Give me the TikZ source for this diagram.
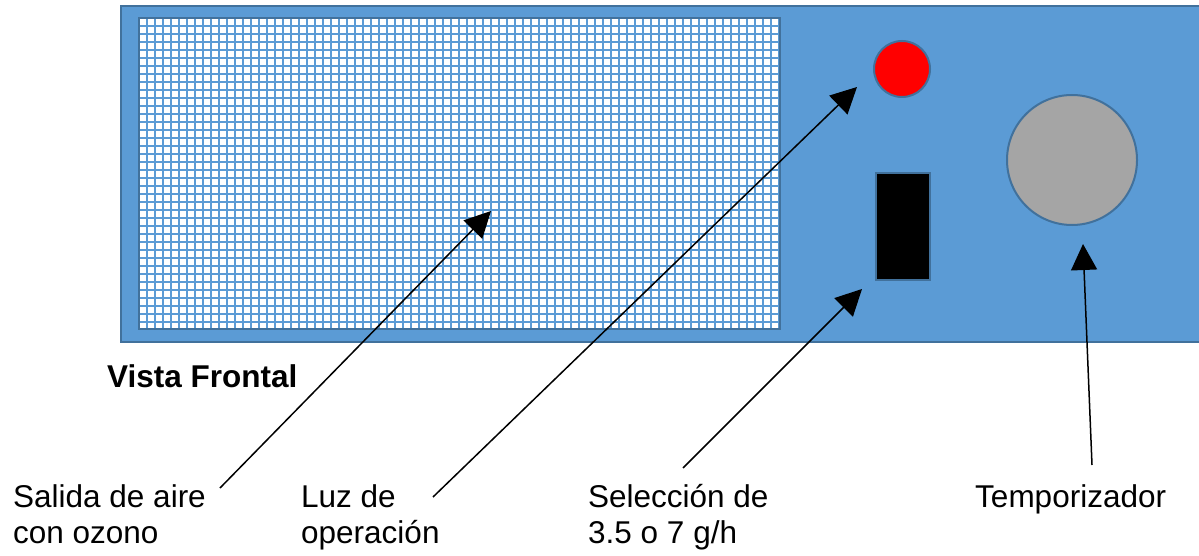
\documentclass[tikz,border=0pt]{standalone}
\usepackage{fontspec}
\setmainfont{Liberation Sans}
\usetikzlibrary{positioning,arrows.meta}
\definecolor{panelblue}{HTML}{5B9BD5}
\definecolor{edgeblue}{HTML}{41719C}
\definecolor{knobgray}{HTML}{A5A5A5}
\tikzstyle{panel} = [draw=edgeblue, line width=2.5pt, fill=panelblue, rectangle, inner sep=0pt]
\tikzstyle{outlet} = [fill=white, rectangle, inner sep=0pt, minimum width=641, minimum height=311]
\tikzstyle{gridline} = [draw=panelblue, line width=1.8pt]
\tikzstyle{frame} = [draw=edgeblue, line width=2pt]
\tikzstyle{lamp} = [circle, draw=edgeblue, line width=2pt, fill=red, minimum size=56, inner sep=0pt]
\tikzstyle{switch} = [rectangle, draw=edgeblue, line width=2pt, fill=black, minimum width=54, minimum height=107, inner sep=0pt]
\tikzstyle{knob} = [circle, draw=edgeblue, line width=2pt, fill=knobgray, minimum size=130, inner sep=0pt]
\tikzstyle{label} = [align=left, inner sep=0pt, anchor=base west, font=\fontsize{31.5}{36.5}\selectfont]
\tikzstyle{line} = [draw, line width=1.5pt, -{Triangle[length=26, width=26]}]

\begin{document}
\begin{tikzpicture}[x=1pt, y=-1pt]
    \useasboundingbox (0,0) rectangle (1199,556);

    % Place nodes
    \node [panel, minimum width=1100, minimum height=336] (front) at (671,174) {};
    \node [outlet] (salida) at (459.5,173.5) {};
    \foreach \k in {1,...,80}
        \path [gridline] (139+8*\k,18) -- (139+8*\k,329);
    \foreach \k in {1,...,38}
        \path [gridline] (139,18+8*\k) -- (780,18+8*\k);
    \path [frame] (salida.south west) rectangle (salida.north east);
    \node [lamp] (luz) at (902,69) {};
    \node [switch] (selector) at (903,226.5) {};
    \node [knob] (timer) at (1072,160) {};

    \node [label, font=\fontsize{31.5}{36.5}\selectfont\bfseries] (vista) at (107,387) {Vista Frontal};
    \node [label] (salida-txt) at (13,543.5) {Salida de aire\\con ozono};
    \node [label] (luz-txt) at (301,543.5) {Luz de\\operación};
    \node [label] (selector-txt) at (588,543.5) {Selección de\\3.5 o 7 g/h};
    \node [label] (timer-txt) at (975,507) {Temporizador};

    % Arrow ends
    \coordinate (salida-from) at (220,488);
    \coordinate (salida-to) at (491,211);
    \coordinate (luz-from) at (433,497);
    \coordinate (luz-to) at (857,87);
    \coordinate (selector-from) at (683,468);
    \coordinate (selector-to) at (862,289);
    \coordinate (timer-from) at (1092,465);
    \coordinate (timer-to) at (1083,244);

    % Draw edges
    \path [line] (salida-from) -- (salida-to);
    \path [line] (luz-from) -- (luz-to);
    \path [line] (selector-from) -- (selector-to);
    \path [line] (timer-from) -- (timer-to);
\end{tikzpicture}
\end{document}
